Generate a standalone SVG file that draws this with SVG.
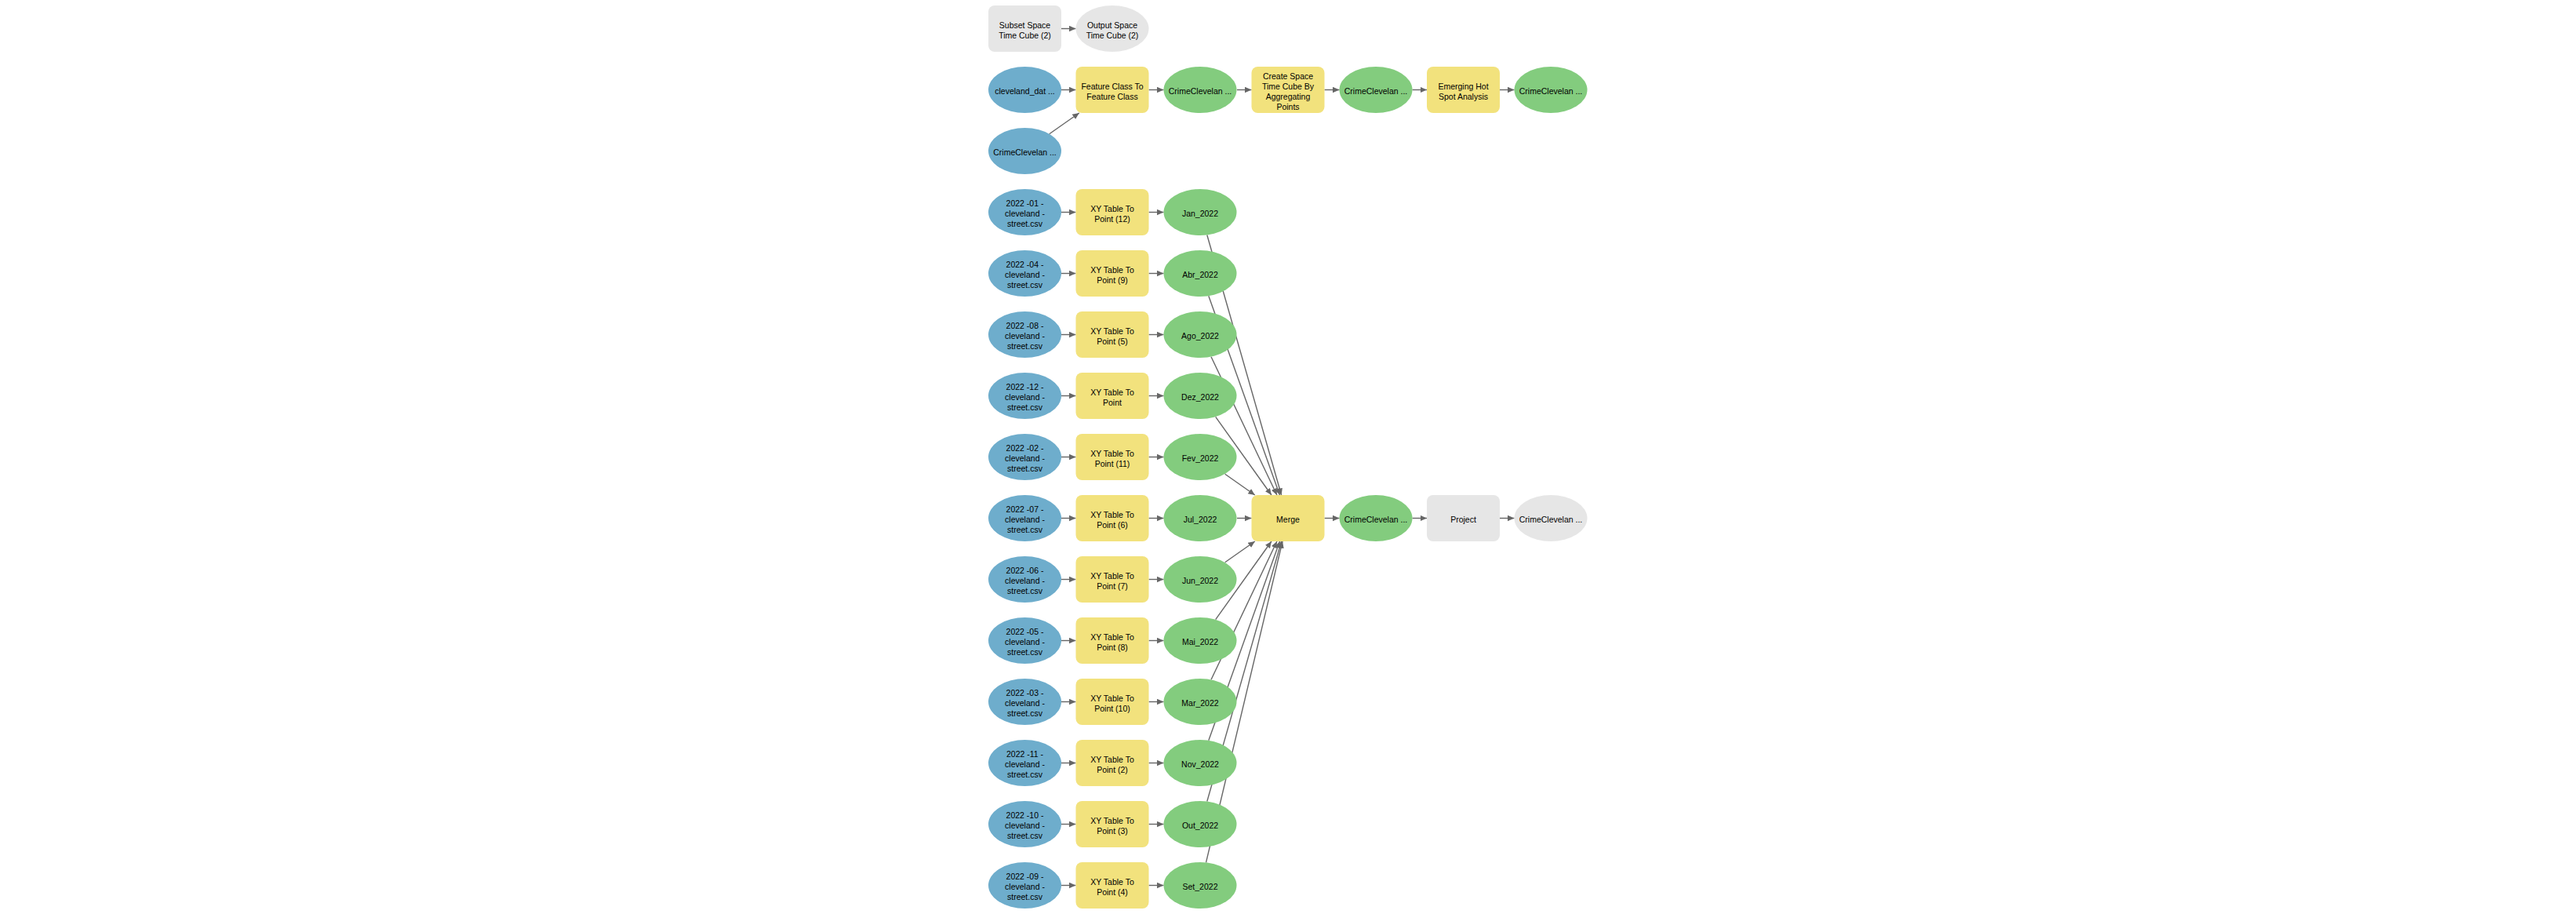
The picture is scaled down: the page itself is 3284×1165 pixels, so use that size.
<svg xmlns="http://www.w3.org/2000/svg" width="3284" height="1165" viewBox="0 0 3284 1165">
<style>
.bg{fill:#ffffff}
.inp{fill:#6eadcc}
.tool{fill:#f2e27d}
.out{fill:#83cc7e}
.gray{fill:#e6e6e6}
text{font-family:"Liberation Sans",Arial,sans-serif;font-size:10.5px;fill:#000;text-anchor:middle}
.c line{stroke:#666666;stroke-width:1.4;fill:none;marker-end:url(#arr)}
</style>
<defs>
<marker id="arr" markerUnits="userSpaceOnUse" markerWidth="10" markerHeight="8" refX="8.5" refY="3.75" orient="auto">
<path d="M0,0 L8.5,3.75 L0,7.5 z" fill="#666666"/>
</marker>
</defs>
<rect class="bg" x="0" y="0" width="3284" height="1165"/>
<g id="connectors" class="c">
<line x1="1353" y1="36.5" x2="1371.5" y2="36.5"/>
<line x1="1353" y1="114.5" x2="1371.5" y2="114.5"/>
<line x1="1464.5" y1="114.5" x2="1483.5" y2="114.5"/>
<line x1="1577" y1="114.5" x2="1595.5" y2="114.5"/>
<line x1="1688.5" y1="114.5" x2="1707.5" y2="114.5"/>
<line x1="1800.5" y1="114.5" x2="1819" y2="114.5"/>
<line x1="1912" y1="114.5" x2="1930.5" y2="114.5"/>
<line x1="1337.7" y1="170.7" x2="1375.8" y2="144"/>
<line x1="1353" y1="270.5" x2="1371.5" y2="270.5"/>
<line x1="1464.5" y1="270.5" x2="1483.5" y2="270.5"/>
<line x1="1353" y1="348.5" x2="1371.5" y2="348.5"/>
<line x1="1464.5" y1="348.5" x2="1483.5" y2="348.5"/>
<line x1="1353" y1="426.5" x2="1371.5" y2="426.5"/>
<line x1="1464.5" y1="426.5" x2="1483.5" y2="426.5"/>
<line x1="1353" y1="504.5" x2="1371.5" y2="504.5"/>
<line x1="1464.5" y1="504.5" x2="1483.5" y2="504.5"/>
<line x1="1353" y1="582.5" x2="1371.5" y2="582.5"/>
<line x1="1464.5" y1="582.5" x2="1483.5" y2="582.5"/>
<line x1="1353" y1="660.5" x2="1371.5" y2="660.5"/>
<line x1="1464.5" y1="660.5" x2="1483.5" y2="660.5"/>
<line x1="1353" y1="738.5" x2="1371.5" y2="738.5"/>
<line x1="1464.5" y1="738.5" x2="1483.5" y2="738.5"/>
<line x1="1353" y1="816.5" x2="1371.5" y2="816.5"/>
<line x1="1464.5" y1="816.5" x2="1483.5" y2="816.5"/>
<line x1="1353" y1="894.5" x2="1371.5" y2="894.5"/>
<line x1="1464.5" y1="894.5" x2="1483.5" y2="894.5"/>
<line x1="1353" y1="972.5" x2="1371.5" y2="972.5"/>
<line x1="1464.5" y1="972.5" x2="1483.5" y2="972.5"/>
<line x1="1353" y1="1050.5" x2="1371.5" y2="1050.5"/>
<line x1="1464.5" y1="1050.5" x2="1483.5" y2="1050.5"/>
<line x1="1353" y1="1128.5" x2="1371.5" y2="1128.5"/>
<line x1="1464.5" y1="1128.5" x2="1483.5" y2="1128.5"/>
<line x1="1538.8" y1="299.5" x2="1633.6" y2="631"/>
<line x1="1540.8" y1="377.3" x2="1631.5" y2="631"/>
<line x1="1544" y1="454.7" x2="1627.9" y2="631"/>
<line x1="1549.7" y1="531.4" x2="1620.9" y2="631"/>
<line x1="1561.7" y1="604.3" x2="1599.8" y2="631"/>
<line x1="1577" y1="660.5" x2="1595.5" y2="660.5"/>
<line x1="1561.7" y1="716.7" x2="1599.8" y2="690"/>
<line x1="1549.7" y1="789.6" x2="1620.9" y2="690"/>
<line x1="1544" y1="866.3" x2="1627.9" y2="690"/>
<line x1="1540.8" y1="943.7" x2="1631.5" y2="690"/>
<line x1="1538.8" y1="1021.5" x2="1633.6" y2="690"/>
<line x1="1537.5" y1="1099.3" x2="1635" y2="690"/>
<line x1="1688.5" y1="660.5" x2="1707.5" y2="660.5"/>
<line x1="1800.5" y1="660.5" x2="1819" y2="660.5"/>
<line x1="1912" y1="660.5" x2="1930.5" y2="660.5"/>
</g>
<g id="subset-space-time-cube-2"><rect class="gray" x="1260" y="7" width="93" height="59" rx="8"/><text><tspan x="1306.5" y="35.5">Subset Space</tspan><tspan x="1306.5" y="48.5">Time Cube (2)</tspan></text></g>
<g id="output-space-time-cube-2"><ellipse class="gray" cx="1418" cy="36.5" rx="46.5" ry="29.5"/><text><tspan x="1418" y="35.5">Output Space</tspan><tspan x="1418" y="48.5">Time Cube (2)</tspan></text></g>
<g id="cleveland-dat"><ellipse class="inp" cx="1306.5" cy="114.5" rx="46.5" ry="29.5"/><text x="1306.5" y="120">cleveland_dat ...</text></g>
<g id="feature-class-to-feature-class"><rect class="tool" x="1371.5" y="85" width="93" height="59" rx="8"/><text><tspan x="1418" y="113.5">Feature Class To</tspan><tspan x="1418" y="126.5">Feature Class</tspan></text></g>
<g id="crime-fc-out"><ellipse class="out" cx="1530" cy="114.5" rx="46.5" ry="29.5"/><text x="1530" y="120">CrimeClevelan ...</text></g>
<g id="create-space-time-cube"><rect class="tool" x="1595.5" y="85" width="93" height="59" rx="8"/><text><tspan x="1642" y="100.5">Create Space</tspan><tspan x="1642" y="113.5">Time Cube By</tspan><tspan x="1642" y="126.5">Aggregating</tspan><tspan x="1642" y="139.5">Points</tspan></text></g>
<g id="crime-cube-out"><ellipse class="out" cx="1754" cy="114.5" rx="46.5" ry="29.5"/><text x="1754" y="120">CrimeClevelan ...</text></g>
<g id="emerging-hot-spot-analysis"><rect class="tool" x="1819" y="85" width="93" height="59" rx="8"/><text><tspan x="1865.5" y="113.5">Emerging Hot</tspan><tspan x="1865.5" y="126.5">Spot Analysis</tspan></text></g>
<g id="crime-hotspot-out"><ellipse class="out" cx="1977" cy="114.5" rx="46.5" ry="29.5"/><text x="1977" y="120">CrimeClevelan ...</text></g>
<g id="crime-input"><ellipse class="inp" cx="1306.5" cy="192.5" rx="46.5" ry="29.5"/><text x="1306.5" y="198">CrimeClevelan ...</text></g>

<g id="csv-01"><ellipse class="inp" cx="1306.5" cy="270.5" rx="46.5" ry="29.5"/><text><tspan x="1306.5" y="263">2022 -01 -</tspan><tspan x="1306.5" y="276">cleveland -</tspan><tspan x="1306.5" y="289">street.csv</tspan></text></g>
<g id="xy-12"><rect class="tool" x="1371.5" y="241" width="93" height="59" rx="8"/><text><tspan x="1418" y="269.5">XY Table To</tspan><tspan x="1418" y="282.5">Point (12)</tspan></text></g>
<g id="jan-2022"><ellipse class="out" cx="1530" cy="270.5" rx="46.5" ry="29.5"/><text x="1530" y="276">Jan_2022</text></g>

<g id="csv-04"><ellipse class="inp" cx="1306.5" cy="348.5" rx="46.5" ry="29.5"/><text><tspan x="1306.5" y="341">2022 -04 -</tspan><tspan x="1306.5" y="354">cleveland -</tspan><tspan x="1306.5" y="367">street.csv</tspan></text></g>
<g id="xy-9"><rect class="tool" x="1371.5" y="319" width="93" height="59" rx="8"/><text><tspan x="1418" y="347.5">XY Table To</tspan><tspan x="1418" y="360.5">Point (9)</tspan></text></g>
<g id="abr-2022"><ellipse class="out" cx="1530" cy="348.5" rx="46.5" ry="29.5"/><text x="1530" y="354">Abr_2022</text></g>

<g id="csv-08"><ellipse class="inp" cx="1306.5" cy="426.5" rx="46.5" ry="29.5"/><text><tspan x="1306.5" y="419">2022 -08 -</tspan><tspan x="1306.5" y="432">cleveland -</tspan><tspan x="1306.5" y="445">street.csv</tspan></text></g>
<g id="xy-5"><rect class="tool" x="1371.5" y="397" width="93" height="59" rx="8"/><text><tspan x="1418" y="425.5">XY Table To</tspan><tspan x="1418" y="438.5">Point (5)</tspan></text></g>
<g id="ago-2022"><ellipse class="out" cx="1530" cy="426.5" rx="46.5" ry="29.5"/><text x="1530" y="432">Ago_2022</text></g>

<g id="csv-12"><ellipse class="inp" cx="1306.5" cy="504.5" rx="46.5" ry="29.5"/><text><tspan x="1306.5" y="497">2022 -12 -</tspan><tspan x="1306.5" y="510">cleveland -</tspan><tspan x="1306.5" y="523">street.csv</tspan></text></g>
<g id="xy-1"><rect class="tool" x="1371.5" y="475" width="93" height="59" rx="8"/><text><tspan x="1418" y="503.5">XY Table To</tspan><tspan x="1418" y="516.5">Point</tspan></text></g>
<g id="dez-2022"><ellipse class="out" cx="1530" cy="504.5" rx="46.5" ry="29.5"/><text x="1530" y="510">Dez_2022</text></g>

<g id="csv-02"><ellipse class="inp" cx="1306.5" cy="582.5" rx="46.5" ry="29.5"/><text><tspan x="1306.5" y="575">2022 -02 -</tspan><tspan x="1306.5" y="588">cleveland -</tspan><tspan x="1306.5" y="601">street.csv</tspan></text></g>
<g id="xy-11"><rect class="tool" x="1371.5" y="553" width="93" height="59" rx="8"/><text><tspan x="1418" y="581.5">XY Table To</tspan><tspan x="1418" y="594.5">Point (11)</tspan></text></g>
<g id="fev-2022"><ellipse class="out" cx="1530" cy="582.5" rx="46.5" ry="29.5"/><text x="1530" y="588">Fev_2022</text></g>

<g id="csv-07"><ellipse class="inp" cx="1306.5" cy="660.5" rx="46.5" ry="29.5"/><text><tspan x="1306.5" y="653">2022 -07 -</tspan><tspan x="1306.5" y="666">cleveland -</tspan><tspan x="1306.5" y="679">street.csv</tspan></text></g>
<g id="xy-6"><rect class="tool" x="1371.5" y="631" width="93" height="59" rx="8"/><text><tspan x="1418" y="659.5">XY Table To</tspan><tspan x="1418" y="672.5">Point (6)</tspan></text></g>
<g id="jul-2022"><ellipse class="out" cx="1530" cy="660.5" rx="46.5" ry="29.5"/><text x="1530" y="666">Jul_2022</text></g>

<g id="csv-06"><ellipse class="inp" cx="1306.5" cy="738.5" rx="46.5" ry="29.5"/><text><tspan x="1306.5" y="731">2022 -06 -</tspan><tspan x="1306.5" y="744">cleveland -</tspan><tspan x="1306.5" y="757">street.csv</tspan></text></g>
<g id="xy-7"><rect class="tool" x="1371.5" y="709" width="93" height="59" rx="8"/><text><tspan x="1418" y="737.5">XY Table To</tspan><tspan x="1418" y="750.5">Point (7)</tspan></text></g>
<g id="jun-2022"><ellipse class="out" cx="1530" cy="738.5" rx="46.5" ry="29.5"/><text x="1530" y="744">Jun_2022</text></g>

<g id="csv-05"><ellipse class="inp" cx="1306.5" cy="816.5" rx="46.5" ry="29.5"/><text><tspan x="1306.5" y="809">2022 -05 -</tspan><tspan x="1306.5" y="822">cleveland -</tspan><tspan x="1306.5" y="835">street.csv</tspan></text></g>
<g id="xy-8"><rect class="tool" x="1371.5" y="787" width="93" height="59" rx="8"/><text><tspan x="1418" y="815.5">XY Table To</tspan><tspan x="1418" y="828.5">Point (8)</tspan></text></g>
<g id="mai-2022"><ellipse class="out" cx="1530" cy="816.5" rx="46.5" ry="29.5"/><text x="1530" y="822">Mai_2022</text></g>

<g id="csv-03"><ellipse class="inp" cx="1306.5" cy="894.5" rx="46.5" ry="29.5"/><text><tspan x="1306.5" y="887">2022 -03 -</tspan><tspan x="1306.5" y="900">cleveland -</tspan><tspan x="1306.5" y="913">street.csv</tspan></text></g>
<g id="xy-10"><rect class="tool" x="1371.5" y="865" width="93" height="59" rx="8"/><text><tspan x="1418" y="893.5">XY Table To</tspan><tspan x="1418" y="906.5">Point (10)</tspan></text></g>
<g id="mar-2022"><ellipse class="out" cx="1530" cy="894.5" rx="46.5" ry="29.5"/><text x="1530" y="900">Mar_2022</text></g>

<g id="csv-11"><ellipse class="inp" cx="1306.5" cy="972.5" rx="46.5" ry="29.5"/><text><tspan x="1306.5" y="965">2022 -11 -</tspan><tspan x="1306.5" y="978">cleveland -</tspan><tspan x="1306.5" y="991">street.csv</tspan></text></g>
<g id="xy-2"><rect class="tool" x="1371.5" y="943" width="93" height="59" rx="8"/><text><tspan x="1418" y="971.5">XY Table To</tspan><tspan x="1418" y="984.5">Point (2)</tspan></text></g>
<g id="nov-2022"><ellipse class="out" cx="1530" cy="972.5" rx="46.5" ry="29.5"/><text x="1530" y="978">Nov_2022</text></g>

<g id="csv-10"><ellipse class="inp" cx="1306.5" cy="1050.5" rx="46.5" ry="29.5"/><text><tspan x="1306.5" y="1043">2022 -10 -</tspan><tspan x="1306.5" y="1056">cleveland -</tspan><tspan x="1306.5" y="1069">street.csv</tspan></text></g>
<g id="xy-3"><rect class="tool" x="1371.5" y="1021" width="93" height="59" rx="8"/><text><tspan x="1418" y="1049.5">XY Table To</tspan><tspan x="1418" y="1062.5">Point (3)</tspan></text></g>
<g id="out-2022"><ellipse class="out" cx="1530" cy="1050.5" rx="46.5" ry="29.5"/><text x="1530" y="1056">Out_2022</text></g>

<g id="csv-09"><ellipse class="inp" cx="1306.5" cy="1128.5" rx="46.5" ry="29.5"/><text><tspan x="1306.5" y="1121">2022 -09 -</tspan><tspan x="1306.5" y="1134">cleveland -</tspan><tspan x="1306.5" y="1147">street.csv</tspan></text></g>
<g id="xy-4"><rect class="tool" x="1371.5" y="1099" width="93" height="59" rx="8"/><text><tspan x="1418" y="1127.5">XY Table To</tspan><tspan x="1418" y="1140.5">Point (4)</tspan></text></g>
<g id="set-2022"><ellipse class="out" cx="1530" cy="1128.5" rx="46.5" ry="29.5"/><text x="1530" y="1134">Set_2022</text></g>

<g id="merge"><rect class="tool" x="1595.5" y="631" width="93" height="59" rx="8"/><text x="1642" y="666">Merge</text></g>
<g id="crime-merge-out"><ellipse class="out" cx="1754" cy="660.5" rx="46.5" ry="29.5"/><text x="1754" y="666">CrimeClevelan ...</text></g>
<g id="project"><rect class="gray" x="1819" y="631" width="93" height="59" rx="8"/><text x="1865.5" y="666">Project</text></g>
<g id="crime-project-out"><ellipse class="gray" cx="1977" cy="660.5" rx="46.5" ry="29.5"/><text x="1977" y="666">CrimeClevelan ...</text></g>
</svg>
